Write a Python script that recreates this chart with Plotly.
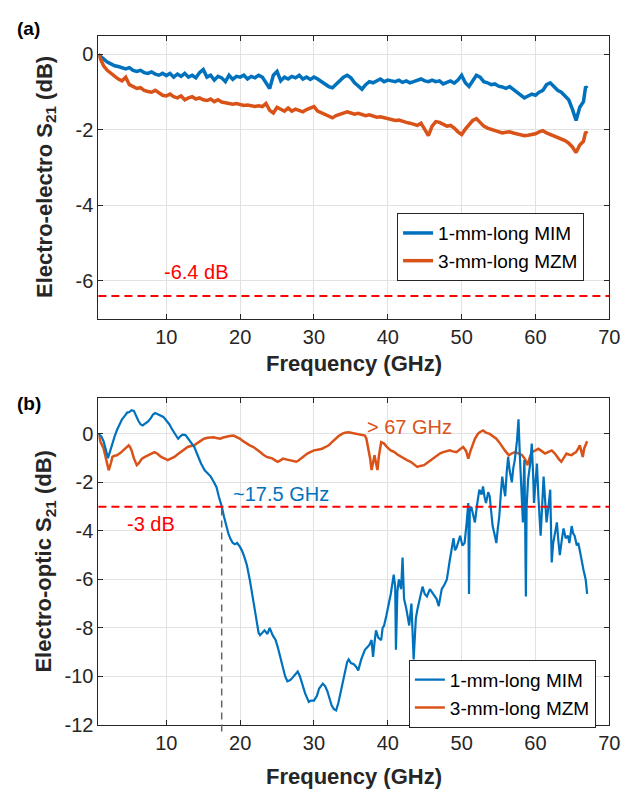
import plotly.graph_objects as go

# ---------------- data ----------------
TOP_F = [0.8, 1.5, 2.0, 2.5, 3.0, 3.5, 4.0, 4.5, 5.0, 5.5,
         6.0, 6.5, 7.0, 7.5, 8.0, 8.5, 9.0, 9.5, 10.0, 10.5,
         11.0, 11.5, 12.0, 12.5, 13.0, 13.5, 14.0, 14.5, 15.0, 15.5,
         16.0, 16.5, 17.0, 17.5, 18.0, 18.5, 19.0, 19.5, 20.0, 20.5,
         21.0, 21.5, 22.0, 22.5, 23.0, 23.5, 24.0, 24.5, 25.0, 25.5,
         26.0, 26.5, 27.0, 27.5, 28.0, 28.5, 29.0, 29.5, 30.0, 30.5,
         31.0, 31.5, 32.0, 32.5, 33.0, 33.5, 34.0, 34.5, 35.0, 35.5,
         36.0, 36.5, 37.0, 37.5, 38.0, 38.5, 39.0, 39.5, 40.0, 40.5,
         41.0, 41.5, 42.0, 42.5, 43.0, 43.5, 44.0, 44.5, 45.0, 45.5,
         46.0, 46.5, 47.0, 47.5, 48.0, 48.5, 49.0, 49.5, 50.0, 50.5,
         51.0, 51.5, 52.0, 52.5, 53.0, 53.5, 54.0, 54.5, 55.0, 55.5,
         56.0, 56.5, 57.0, 57.5, 58.0, 58.5, 59.0, 59.5, 60.0, 60.5,
         61.0, 61.5, 62.0, 62.5, 63.0, 63.5, 64.0, 64.5, 65.0, 65.5,
         66.0, 66.5, 66.8, 67.0]

EE_MIM = [0.0, -0.12, -0.2, -0.25, -0.3, -0.32, -0.36, -0.38, -0.35, -0.42,
          -0.45, -0.42, -0.48, -0.5, -0.46, -0.52, -0.55, -0.5, -0.56, -0.5,
          -0.6, -0.52, -0.58, -0.5, -0.6, -0.55, -0.62, -0.48, -0.4, -0.6,
          -0.55, -0.68, -0.58, -0.62, -0.72, -0.55, -0.66, -0.58, -0.6, -0.55,
          -0.65, -0.58, -0.62, -0.55, -0.6, -0.75, -0.9, -0.55, -0.45, -0.7,
          -0.6, -0.65, -0.58, -0.62, -0.55, -0.65, -0.6, -0.66, -0.6, -0.65,
          -0.72, -0.78, -0.85, -0.88, -0.78, -0.7, -0.6, -0.55, -0.62, -0.75,
          -0.85, -0.92, -0.8, -0.72, -0.75, -0.7, -0.65, -0.72, -0.68, -0.7,
          -0.72, -0.68, -0.74, -0.7, -0.75, -0.72, -0.68, -0.65, -0.7, -0.72,
          -0.68, -0.72, -0.7, -0.78, -0.74, -0.7, -0.76, -0.68, -0.55, -0.75,
          -0.85, -0.7, -0.55, -0.6, -0.72, -0.75, -0.8, -0.78, -0.84, -0.86,
          -0.9, -0.85, -0.92, -1.0, -1.08, -1.15, -1.1, -1.05, -1.08, -1.0,
          -0.95, -0.8, -0.75, -0.85, -0.95, -1.0, -1.1, -1.2, -1.45, -1.75,
          -1.4, -1.25, -0.85, -0.9]

EE_MZM = [0.0, -0.3, -0.42, -0.5, -0.6, -0.65, -0.7, -0.6, -0.8, -0.85,
          -0.9, -0.88, -0.95, -0.98, -1.0, -0.95, -1.02, -1.08, -1.1, -1.05,
          -1.12, -1.15, -1.1, -1.2, -1.15, -1.12, -1.18, -1.15, -1.2, -1.22,
          -1.18, -1.25, -1.2, -1.26, -1.28, -1.3, -1.32, -1.3, -1.33, -1.35,
          -1.34, -1.36, -1.38, -1.36, -1.38, -1.3, -1.48, -1.55, -1.4, -1.45,
          -1.5, -1.42, -1.5, -1.45, -1.48, -1.52, -1.46, -1.42, -1.38, -1.5,
          -1.55, -1.6, -1.65, -1.68, -1.62, -1.58, -1.55, -1.52, -1.55, -1.58,
          -1.56, -1.6, -1.62, -1.6, -1.64, -1.66, -1.65, -1.68, -1.7, -1.72,
          -1.75, -1.74, -1.78, -1.8, -1.82, -1.85, -1.88, -1.82, -2.0, -2.15,
          -1.9, -1.78, -1.8, -1.85, -1.9, -1.88, -1.95, -2.05, -2.12, -1.98,
          -1.85, -1.75, -1.7, -1.8, -1.9, -1.95, -1.98, -2.02, -2.05, -2.08,
          -2.06, -2.05, -2.08, -2.1, -2.12, -2.15, -2.14, -2.12, -2.1, -2.05,
          -2.02, -2.08, -2.12, -2.15, -2.18, -2.22, -2.28, -2.35, -2.45, -2.6,
          -2.4, -2.3, -2.05, -2.1]

EO_MIM_F = [0.8, 1.2, 1.5, 1.8, 2.1, 2.4, 2.7, 3.0, 3.3, 3.7,
            4.0, 4.4, 4.7, 5.0, 5.3, 5.6, 5.9, 6.2, 6.5, 6.8,
            7.1, 7.5, 7.9, 8.2, 8.5, 8.8, 9.2, 9.6, 10.0, 10.4,
            10.8, 11.2, 11.6, 11.9, 12.2, 12.6, 13.0, 13.4, 13.8, 14.2,
            14.7, 15.2, 15.6, 16.0, 16.4, 16.8, 17.1, 17.5, 17.8, 18.0,
            18.4, 18.7, 19.0, 19.3, 19.6, 20.0, 20.3, 20.6, 20.9, 21.3,
            21.6, 21.8, 22.2, 22.5, 22.7, 23.0, 23.3, 23.7, 24.0, 24.4,
            24.8, 25.1, 25.5, 25.8, 26.1, 26.4, 26.8, 27.1, 27.5, 27.8,
            28.1, 28.4, 28.8, 29.3, 29.6, 30.0, 30.4, 30.7, 31.2, 31.5,
            31.8, 32.1, 32.4, 32.7, 33.0, 33.3, 33.5, 33.8, 34.2, 34.5,
            34.7, 35.0, 35.4, 35.7, 36.0, 36.4, 36.9, 37.2, 37.5, 37.8,
            38.0, 38.2, 38.4, 38.7, 39.1, 39.3, 39.5, 39.8, 40.0, 40.2,
            40.4, 40.6, 40.8, 41.0, 41.1, 41.3, 41.5, 41.8, 42.0, 42.2,
            42.5, 42.9, 43.2, 43.5, 43.8, 44.0, 44.3, 44.7, 45.0, 45.3,
            45.7, 46.2, 46.6, 46.9, 47.3, 47.7, 48.0, 48.4, 48.9, 49.1,
            49.3, 49.6, 49.8, 50.1, 50.4, 50.7, 50.9, 51.0, 51.1, 51.3,
            51.6, 51.8, 52.1, 52.4, 52.7, 52.9, 53.1, 53.3, 53.6, 53.8,
            54.0, 54.2, 54.5, 54.7, 54.9, 55.1, 55.3, 55.5, 55.7, 55.9,
            56.1, 56.3, 56.5, 56.8, 57.0, 57.2, 57.5, 57.7, 57.9, 58.1,
            58.3, 58.4, 58.5, 58.6, 58.7, 58.8, 59.0, 59.3, 59.5, 59.7,
            59.8, 60.0, 60.2, 60.4, 60.7, 60.9, 61.1, 61.3, 61.5, 61.8,
            62.0, 62.2, 62.4, 62.7, 62.9, 63.1, 63.3, 63.6, 63.8, 64.1,
            64.4, 64.6, 64.9, 65.1, 65.3, 65.6, 65.8, 66.0, 66.2, 66.5,
            66.8, 67.0]

EO_MIM = [0.0, -0.1, -0.3, -0.6, -1.0, -0.7, -0.35, -0.1, 0.15, 0.4,
          0.6, 0.75, 0.88, 0.9, 0.98, 0.95, 0.72, 0.55, 0.4, 0.35,
          0.42, 0.5, 0.65, 0.8, 0.86, 0.82, 0.76, 0.7, 0.55, 0.4,
          0.18, 0.0, -0.2, -0.1, -0.03, -0.05, -0.2, -0.35, -0.54, -0.85,
          -1.22, -1.5, -1.63, -1.75, -1.96, -2.2, -2.57, -2.98, -3.4, -3.66,
          -4.1, -4.34, -4.5, -4.55, -4.5, -4.67, -4.85, -5.1, -5.4, -6.0,
          -6.6, -7.0, -7.8, -8.2, -8.3, -8.2, -8.1, -8.25, -8.0, -8.3,
          -8.5, -8.8, -9.3, -9.7, -10.0, -10.2, -10.15, -10.05, -9.9, -9.8,
          -10.0, -10.3, -10.7, -11.05, -11.0, -11.0, -10.8, -10.5, -10.3, -10.4,
          -10.6, -10.9, -11.2, -11.35, -11.4, -11.1, -10.8, -10.3, -9.8, -9.4,
          -9.3, -9.45, -9.5, -9.6, -9.75, -9.3, -8.9, -8.8, -8.7, -8.5,
          -9.2, -8.6, -8.1, -8.4, -8.5, -8.0, -7.9, -7.5, -7.25, -6.9,
          -6.6, -6.1, -5.8, -6.3, -8.9, -6.5, -6.0, -6.4, -5.1, -6.8,
          -7.2, -7.9, -7.0, -9.3, -7.6, -7.25, -6.8, -6.3, -6.6, -6.7,
          -6.4, -6.6, -6.8, -7.1, -6.4, -6.2, -6.0, -5.2, -4.3, -4.8,
          -4.7, -4.4, -4.2, -4.6, -4.5, -3.6, -2.85, -6.6, -3.2, -3.0,
          -3.4, -3.65, -2.9, -2.3, -2.5, -2.17, -2.6, -2.85, -2.4, -2.57,
          -3.2, -3.8, -4.2, -4.5, -3.9, -3.4, -2.5, -1.76, -2.2, -2.57,
          -1.6, -0.95, -1.5, -2.0, -1.4, -1.08, -0.27, 0.6, -1.0, -2.6,
          -3.65, -2.0, -1.08, -3.5, -6.7, -3.0, -1.9, -1.2, -0.4, -1.8,
          -2.85, -2.0, -1.22, -2.6, -4.2, -3.0, -1.76, -2.7, -3.65, -2.9,
          -2.3, -5.3, -4.5, -4.0, -3.65, -4.4, -5.0, -4.3, -3.9, -4.3,
          -4.2, -4.5, -3.8, -4.1, -4.2, -4.6, -4.5, -4.8, -5.15, -5.6,
          -6.0, -6.6]

EO_MZM_F = [0.8, 1.1, 1.5, 1.8, 2.0, 2.2, 2.5, 2.7, 3.0, 3.3,
            3.8, 4.2, 4.6, 4.9, 5.1, 5.3, 5.6, 6.0, 6.3, 6.7,
            7.1, 7.6, 8.0, 8.4, 8.8, 9.3, 9.8, 10.2, 10.6, 11.1,
            11.5, 12.0, 12.4, 12.9, 13.3, 13.8, 14.2, 14.7, 15.1, 15.6,
            16.0, 16.4, 16.8, 17.3, 17.7, 18.2, 18.6, 19.1, 19.5, 20.0,
            20.4, 20.9, 21.3, 21.8, 22.2, 22.7, 23.1, 23.6, 24.0, 24.4,
            24.8, 25.1, 25.5, 25.8, 26.2, 26.7, 27.1, 27.6, 27.9, 28.2,
            28.6, 29.1, 29.5, 30.0, 30.5, 31.1, 31.5, 32.0, 32.4, 32.9,
            33.3, 33.8, 34.2, 34.7, 35.1, 35.5, 36.0, 36.5, 36.9, 37.1,
            37.3, 37.6, 37.8, 38.0, 38.2, 38.4, 38.6, 38.8, 39.1, 39.5,
            39.9, 40.4, 40.9, 41.3, 41.8, 42.2, 42.6, 43.1, 43.5, 44.0,
            44.4, 44.9, 45.3, 45.8, 46.2, 46.7, 47.1, 47.5, 48.0, 48.4,
            48.8, 49.3, 49.7, 50.2, 50.6, 50.9, 51.2, 51.5, 51.8, 52.2,
            52.5, 52.9, 53.3, 53.8, 54.2, 54.7, 55.1, 55.5, 55.9, 56.4,
            56.8, 57.3, 57.7, 58.2, 58.6, 58.9, 59.2, 59.5, 60.0, 60.4,
            60.8, 61.3, 61.7, 62.2, 62.6, 62.9, 63.2, 63.5, 63.8, 64.2,
            64.5, 64.9, 65.2, 65.5, 65.8, 66.0, 66.2, 66.4, 66.6, 66.8, 67.0]

EO_MZM = [0.0, -0.34, -0.6, -0.95, -1.2, -1.5, -1.2, -0.95, -0.9, -0.88,
          -0.78, -0.68, -0.55, -0.47, -0.55, -0.68, -1.0, -1.29, -1.2, -1.02,
          -0.95, -0.88, -0.8, -0.75, -0.82, -0.95, -1.02, -1.08, -1.02, -0.95,
          -0.85, -0.75, -0.65, -0.54, -0.5, -0.47, -0.38, -0.27, -0.2, -0.16,
          -0.15, -0.14, -0.17, -0.2, -0.15, -0.11, -0.09, -0.07, -0.12, -0.2,
          -0.3, -0.4, -0.47, -0.54, -0.65, -0.75, -0.85, -0.95, -0.98, -1.02,
          -1.1, -1.15, -1.08, -1.02, -1.05, -1.08, -1.12, -1.15, -1.1, -1.02,
          -0.92, -0.81, -0.75, -0.68, -0.65, -0.61, -0.55, -0.47, -0.35, -0.2,
          -0.1, 0.0, 0.05, 0.07, 0.05, 0.03, 0.0, -0.03, -0.07, -0.2,
          -0.47, -1.0, -1.49, -1.1, -0.88, -1.2, -1.49, -0.9, -0.34, -0.4,
          -0.55, -0.68, -0.75, -0.85, -0.95, -1.0, -1.08, -1.15, -1.25, -1.36,
          -1.32, -1.29, -1.2, -1.08, -0.98, -0.88, -0.8, -0.75, -0.7, -0.68,
          -0.72, -0.75, -0.65, -0.54, -0.7, -1.02, -0.7, -0.4, -0.2, 0.0,
          0.08, 0.14, 0.05, 0.0, -0.1, -0.2, -0.35, -0.54, -0.7, -0.88,
          -0.8, -0.75, -0.82, -0.88, -1.05, -1.29, -1.0, -0.75, -0.68, -0.61,
          -0.7, -0.81, -0.75, -0.68, -0.8, -0.95, -1.05, -1.15, -1.0, -0.81,
          -0.85, -0.88, -0.8, -0.75, -0.6, -0.47, -0.7, -0.95, -0.6, -0.4, -0.3]

SERIES_NAMES = ["1-mm-long MIM", "3-mm-long MZM"]
X_TICKS = [10, 20, 30, 40, 50, 60, 70]
Y_TICKS_TOP = [-6, -4, -2, 0]
Y_TICKS_BOT = [-12, -10, -8, -6, -4, -2, 0]
EE_LIMIT = -6.4
EO_LIMIT = -3
F3DB = 17.5

assert len(TOP_F) == len(EE_MIM) == len(EE_MZM)
assert len(EO_MIM_F) == len(EO_MIM)
assert len(EO_MZM_F) == len(EO_MZM)

# ---------------- styling ----------------
BLUE = "#0072BD"
ORANGE = "#D95319"
AX = "#262626"
GRID = "#E2E2E2"
FONT = "Liberation Sans, Arial, Helvetica, sans-serif"
W, H = 629, 793
XR = [0.8, 70]
YR_TOP = [-7, 0.5]
YR_BOT = [-12, 1.5]
XDOM = [92 / W, 612 / W]
YDOM_TOP = [1 - 315 / H, 1 - 28 / H]
YDOM_BOT = [1 - 727 / H, 1 - 395 / H]


def hyphen_labels(vals):
    return [str(v) for v in vals]


fig = go.Figure()

fig.add_trace(go.Scatter(x=TOP_F, y=EE_MIM, name=SERIES_NAMES[0], mode="lines",
                         line=dict(color=BLUE, width=3.5), xaxis="x", yaxis="y",
                         legend="legend"))
fig.add_trace(go.Scatter(x=TOP_F, y=EE_MZM, name=SERIES_NAMES[1], mode="lines",
                         line=dict(color=ORANGE, width=3.5), xaxis="x", yaxis="y",
                         legend="legend"))
fig.add_trace(go.Scatter(x=EO_MZM_F, y=EO_MZM, name=SERIES_NAMES[1], mode="lines",
                         line=dict(color=ORANGE, width=2.5), xaxis="x2", yaxis="y2",
                         legend="legend2", legendrank=2))
fig.add_trace(go.Scatter(x=EO_MIM_F, y=EO_MIM, name=SERIES_NAMES[0], mode="lines",
                         line=dict(color=BLUE, width=2.2), xaxis="x2", yaxis="y2",
                         legend="legend2", legendrank=1))

axis_common = dict(
    showgrid=True, gridcolor=GRID, gridwidth=1, zeroline=False,
    showline=True, linecolor=AX, linewidth=1, mirror="ticks",
    ticks="inside", ticklen=5, tickcolor=AX, tickwidth=1,
    tickfont=dict(family=FONT, size=20, color=AX),
)

legend_common = dict(xanchor="left", yanchor="top",
                     bgcolor="white", bordercolor=AX, borderwidth=1,
                     font=dict(family=FONT, size=19, color="#000000"),
                     tracegroupgap=0, itemwidth=30)

fig.update_layout(
    width=W, height=H,
    margin=dict(l=0, r=0, t=0, b=0),
    paper_bgcolor="white", plot_bgcolor="white",
    font=dict(family=FONT, color=AX),
    xaxis=dict(domain=XDOM, range=XR, tickvals=X_TICKS, anchor="y", **axis_common),
    yaxis=dict(domain=YDOM_TOP, range=YR_TOP, tickvals=Y_TICKS_TOP,
               ticktext=hyphen_labels(Y_TICKS_TOP), anchor="x", **axis_common),
    xaxis2=dict(domain=XDOM, range=XR, tickvals=X_TICKS, anchor="y2", **axis_common),
    yaxis2=dict(domain=YDOM_BOT, range=YR_BOT, tickvals=Y_TICKS_BOT,
                ticktext=hyphen_labels(Y_TICKS_BOT), anchor="x2", **axis_common),
    legend=dict(x=396 / W, y=1 - 208 / H, **legend_common),
    legend2=dict(x=408 / W, y=1 - 661 / H, **legend_common),
    showlegend=True,
)

# limit lines
fig.add_shape(type="line", xref="x domain", yref="y", x0=0, x1=1, y0=EE_LIMIT, y1=EE_LIMIT,
              line=dict(color="#FF0000", width=2, dash="8px,5px"))
fig.add_shape(type="line", xref="x2 domain", yref="y2", x0=0, x1=1, y0=EO_LIMIT, y1=EO_LIMIT,
              line=dict(color="#FF0000", width=2, dash="8px,5px"))
# vertical marker at 3 dB bandwidth (extends a bit below the axis)
y_top_frac = (EO_LIMIT - YR_BOT[0]) / (YR_BOT[1] - YR_BOT[0])
fig.add_shape(type="line", xref="x2", yref="y2 domain", x0=F3DB, x1=F3DB,
              y0=-0.02, y1=y_top_frac,
              line=dict(color="#666666", width=1.5, dash="7px,5px"))

ann = []
lbl = dict(showarrow=False, xanchor="center", yanchor="middle")
ann.append(dict(text="-6.4 dB", x=14, y=-5.76, xref="x", yref="y",
                font=dict(family=FONT, size=20, color="#FF0000"), **lbl))
ann.append(dict(text="~17.5 GHz", x=25.5, y=-2.49, xref="x2", yref="y2",
                font=dict(family=FONT, size=20, color=BLUE), **lbl))
ann.append(dict(text="-3 dB", x=7.9, y=-3.72, xref="x2", yref="y2",
                font=dict(family=FONT, size=20, color="#FF0000"), **lbl))
ann.append(dict(text="> 67 GHz", x=43.0, y=0.27, xref="x2", yref="y2",
                font=dict(family=FONT, size=20, color=ORANGE), **lbl))
# axis titles
title_font = dict(family=FONT, size=22, color=AX)
ann.append(dict(text="<b>Frequency (GHz)</b>", x=352 / W, y=1 - 360 / H, xref="paper", yref="paper",
                font=title_font, **lbl))
ann.append(dict(text="<b>Frequency (GHz)</b>", x=352 / W, y=1 - 779 / H, xref="paper", yref="paper",
                font=title_font, **lbl))
ann.append(dict(text="<b>Electro-electro S<sub>21</sub> (dB)</b>", x=38 / W, y=1 - 171 / H,
                xref="paper", yref="paper", textangle=-90, font=title_font, **lbl))
ann.append(dict(text="<b>Electro-optic S<sub>21</sub> (dB)</b>", x=38 / W, y=1 - 561 / H,
                xref="paper", yref="paper", textangle=-90, font=title_font, **lbl))
# panel labels
ann.append(dict(text="<b>(a)</b>", x=21 / W, y=1 - 21 / H, xref="paper", yref="paper",
                font=dict(family=FONT, size=19, color="#000000"), **lbl))
ann.append(dict(text="<b>(b)</b>", x=21 / W, y=1 - 401 / H, xref="paper", yref="paper",
                font=dict(family=FONT, size=19, color="#000000"), **lbl))
fig.update_layout(annotations=ann)

fig.write_html("out.html")
